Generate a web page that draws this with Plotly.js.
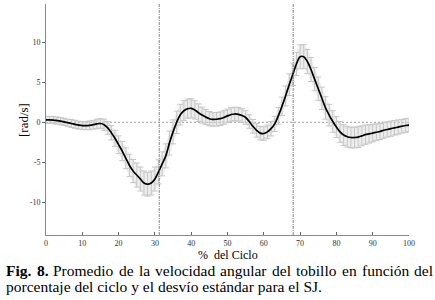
<!DOCTYPE html>
<html>
<head>
<meta charset="utf-8">
<script src="https://cdn.plot.ly/plotly-3.0.1.min.js"></script>
<style>html,body{margin:0;padding:0;background:#fff;}#chart{width:435px;height:300px;}</style>
</head>
<body>
<div id="chart"></div>
<script>
// % of gait cycle
const cyclePct = [0,1,2,3,4,5,6,7,8,9,10,11,12,13,14,15,16,17,18,19,20,21,22,23,24,25,26,27,28,29,30,31,32,33,34,35,36,37,38,39,40,41,42,43,44,45,46,47,48,49,50,51,52,53,54,55,56,57,58,59,60,61,62,63,64,65,66,67,68,69,70,71,72,73,74,75,76,77,78,79,80,81,82,83,84,85,86,87,88,89,90,91,92,93,94,95,96,97,98,99,100];
// mean ankle angular velocity [rad/s]
const meanVel = [0.3,0.3,0.28,0.22,0.15,0.05,-0.05,-0.15,-0.25,-0.35,-0.42,-0.42,-0.38,-0.3,-0.2,-0.15,-0.3,-0.7,-1.3,-2.0,-2.8,-3.6,-4.5,-5.4,-6.1,-6.6,-7.1,-7.6,-7.75,-7.6,-7.1,-6.2,-5.2,-4.2,-2.6,-1.2,0.0,0.95,1.45,1.7,1.75,1.55,1.2,0.9,0.65,0.45,0.37,0.38,0.45,0.6,0.8,0.97,1.04,1.0,0.85,0.6,0.1,-0.5,-1.0,-1.35,-1.4,-1.2,-0.8,-0.2,0.8,2.0,3.3,4.7,6.0,7.3,8.2,8.2,7.6,6.6,5.4,4.2,3.0,1.8,0.9,0.1,-0.6,-1.2,-1.6,-1.8,-1.9,-1.9,-1.85,-1.7,-1.55,-1.45,-1.35,-1.25,-1.15,-1.0,-0.9,-0.8,-0.7,-0.6,-0.5,-0.4,-0.35];
// standard deviation [rad/s]
const stdVel = [0.45,0.45,0.45,0.45,0.45,0.45,0.45,0.5,0.5,0.5,0.5,0.5,0.55,0.55,0.6,0.6,0.7,0.8,0.9,1.0,1.1,1.2,1.3,1.4,1.45,1.5,1.5,1.5,1.5,1.5,1.5,1.5,1.5,1.5,1.5,1.5,1.4,1.3,1.25,1.2,1.2,1.15,1.1,1.0,0.95,0.9,0.85,0.85,0.85,0.85,0.85,0.85,0.85,0.85,0.85,0.85,0.85,0.85,0.85,0.85,0.85,0.85,0.9,0.95,1.05,1.15,1.25,1.35,1.4,1.45,1.5,1.5,1.5,1.5,1.45,1.45,1.4,1.4,1.35,1.35,1.3,1.3,1.3,1.3,1.3,1.3,1.3,1.25,1.2,1.15,1.1,1.05,1.0,1.0,0.95,0.95,0.9,0.9,0.85,0.85,0.85];
const xTicks = [0,10,20,30,40,50,60,70,80,90,100];
const yTicks = [-10,-5,0,5,10];
const phaseLines = [31.2, 68.1];
const captionLine1 = ['Fig.', '8.', 'Promedio', 'de', 'la', 'velocidad', 'angular', 'del', 'tobillo', 'en', 'función', 'del'];
const captionLine2 = 'porcentaje del ciclo y el desvío estándar para el SJ.';
const xTitle = '%  del Ciclo';
const yTitle = '[rad/s]';

const serif = 'Liberation Serif';
const W = 435, H = 300;
const M = {l: 46, r: 26, t: 4, b: 65};
const PW = W - M.l - M.r, PH = H - M.t - M.b;
const px2x = p => (p - M.l) / PW;
const py2y = p => (H - M.b - p) / PH;

const upper = meanVel.map((v, i) => v + stdVel[i]);
const lower = meanVel.map((v, i) => v - stdVel[i]);

const traces = [
  {x: cyclePct, y: lower, type: 'scatter', mode: 'lines', line: {width: 0, color: 'rgba(0,0,0,0)', shape: 'spline'}, hoverinfo: 'skip'},
  {x: cyclePct, y: upper, type: 'scatter', mode: 'lines', line: {width: 0, color: 'rgba(0,0,0,0)', shape: 'spline'},
   fill: 'tonexty', fillcolor: 'rgba(220,220,220,0.5)', hoverinfo: 'skip'},
  {
    x: cyclePct, y: meanVel, type: 'scatter', mode: 'markers',
    marker: {size: 1, color: 'rgba(0,0,0,0)'},
    error_y: {type: 'data', array: stdVel, visible: true, color: '#c6c6c6', thickness: 1, width: 3},
    hoverinfo: 'skip'
  },
  {
    x: cyclePct, y: meanVel, type: 'scatter', mode: 'lines',
    line: {color: '#000', width: 1.7, shape: 'spline'}
  }
];

const shapes = phaseLines.map(v => ({
  type: 'line', xref: 'x', yref: 'paper', x0: v, x1: v, y0: 0, y1: 1,
  line: {color: '#666', width: 0.8, dash: '3px,1px,1px,1px'}
}));
shapes.push({type: 'line', xref: 'x', yref: 'y', x0: 0, x1: 100, y0: 0, y1: 0,
  line: {color: '#888', width: 0.8, dash: '2px,2px'}, layer: 'below'});

// caption font size so that line 2 matches its width in the figure, line 1 justified
const cv = document.createElement('canvas').getContext('2d');
cv.font = '13px "' + serif + '"';
const capSize = Math.round(13 * 313 / cv.measureText(captionLine2).width * 2) / 2;
const widths = captionLine1.map((w, i) => {
  cv.font = (i < 2 ? 'bold ' : '') + capSize + 'px "' + serif + '"';
  return cv.measureText(w).width;
});
const left = 5, right = 432;
const total = widths.reduce((a, b) => a + b, 0);
const gap = (right - left - total) / (captionLine1.length - 1);
const annotations = [];
let cur = left;
captionLine1.forEach((w, i) => {
  annotations.push({xref: 'paper', yref: 'paper', x: px2x(cur), y: py2y(270), xanchor: 'left', yanchor: 'middle',
    showarrow: false, text: i < 2 ? '<b>' + w + '</b>' : w, xshift: -1,
    font: {family: serif, size: capSize, color: '#000'}});
  cur += widths[i] + gap;
});
annotations.push({xref: 'paper', yref: 'paper', x: px2x(5), y: py2y(286), xanchor: 'left', yanchor: 'middle',
  showarrow: false, text: captionLine2, xshift: -1, font: {family: serif, size: capSize, color: '#000'}});
annotations.push({xref: 'paper', yref: 'paper', x: px2x(23), y: py2y(120), xanchor: 'center', yanchor: 'middle',
  showarrow: false, text: yTitle, textangle: -90, font: {family: serif, size: 13, color: '#000'}});
annotations.push({xref: 'paper', yref: 'paper', x: px2x(228), y: py2y(254.5), xanchor: 'center', yanchor: 'middle',
  showarrow: false, text: xTitle, font: {family: serif, size: 12, color: '#000'}});

const layout = {
  width: W, height: H,
  margin: M,
  paper_bgcolor: '#fff', plot_bgcolor: '#fff',
  font: {family: serif, color: '#222', size: 8},
  showlegend: false,
  xaxis: {
    range: [0, 100], tickvals: xTicks, ticktext: xTicks.map(String),
    ticks: 'inside', ticklen: 3, tickcolor: '#666',
    showline: true, linecolor: '#8a8a8a', linewidth: 1,
    showgrid: false, zeroline: false,
    tickfont: {family: serif, size: 8, color: '#333'}
  },
  yaxis: {
    range: [-14.1, 14.8], tickvals: yTicks, ticktext: yTicks.map(String),
    ticks: 'outside', ticklen: 3, tickcolor: '#666',
    showline: true, linecolor: '#8a8a8a', linewidth: 1,
    showgrid: false, zeroline: false,
    tickfont: {family: serif, size: 8, color: '#333'}
  },
  shapes: shapes,
  annotations: annotations
};

Plotly.newPlot('chart', traces, layout, {staticPlot: true, displayModeBar: false});
</script>
</body>
</html>
